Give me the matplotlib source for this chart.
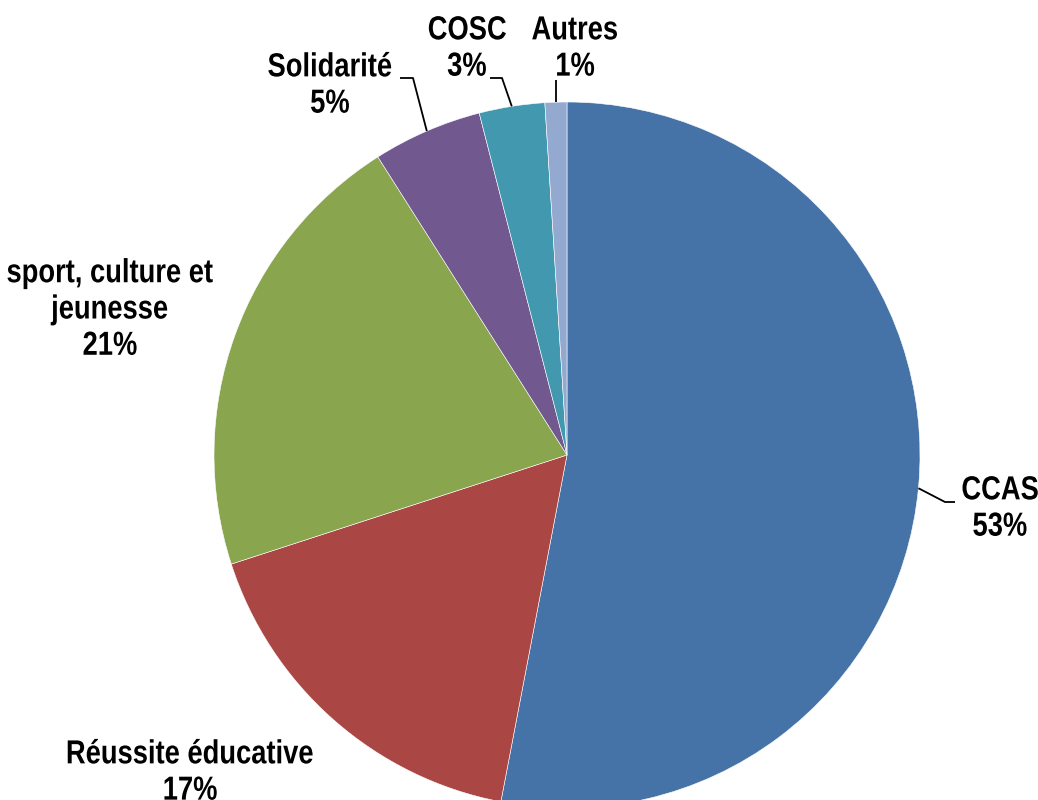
import numpy as np
import matplotlib
matplotlib.use("Agg")
import matplotlib.pyplot as plt
from matplotlib.patheffects import AbstractPathEffect
from matplotlib.transforms import Affine2D

plt.rcParams["font.family"] = ["Liberation Sans", "DejaVu Sans"]

labels = ["CCAS", "Réussite éducative", "sport, culture et\njeunesse", "Solidarité", "COSC", "Autres"]
shares = [53, 17, 21, 5, 3, 1]
colors = ["#4572A7", "#AA4643", "#89A54E", "#71588F", "#4198AF", "#93A9CF"]


class Narrow(AbstractPathEffect):
    """Squeeze each text line horizontally about its own centre (narrow face)."""

    def __init__(self, sx=0.82):
        super().__init__()
        self.sx = sx

    def draw_path(self, renderer, gc, tpath, affine, rgbFace=None):
        ext = tpath.get_extents()
        mid = (ext.x0 + ext.x1) / 2
        squeeze = Affine2D().translate(-mid, 0).scale(self.sx, 1).translate(mid, 0)
        renderer.draw_path(gc, tpath, squeeze + affine, rgbFace)


W, H = 1038, 800
fig = plt.figure(figsize=(W / 100, H / 100), dpi=100)
ax = fig.add_axes([0, 0, 1, 1])

cx, cy, r = 567, H - 455, 353
wedges, _ = ax.pie(shares, colors=colors, startangle=90, counterclock=False,
                   center=(cx, cy), radius=r, frame=True,
                   wedgeprops=dict(edgecolor="white", linewidth=0.4))
ax.set_xlim(0, W)
ax.set_ylim(0, H)
ax.set_aspect("equal")
ax.axis("off")

# label anchor (text centre in pixels from top-left) and optional leader elbow
label_pos = [(1000, 509), (190, 773), (110, 310), (330, 86), (467, 49), (575, 49)]
elbows = [[(945, 502), (955, 502)], None, None,
          [(413, 78), (400, 78)], [(502, 78), (490, 78)], [(556, 80)]]

for w, lab, pct, pos, elb in zip(wedges, labels, shares, label_pos, elbows):
    ax.text(pos[0], H - pos[1], f"{lab}\n{pct}%", ha="center", va="center",
            fontsize=24, fontweight="bold", linespacing=1.22, color="black",
            path_effects=[Narrow()])
    if elb is None:
        continue
    mid = np.deg2rad((w.theta1 + w.theta2) / 2)
    xs = [cx + r * np.cos(mid)] + [p[0] for p in elb]
    ys = [cy + r * np.sin(mid)] + [H - p[1] for p in elb]
    if len(elb) == 1:
        xs[1] = xs[0]
    ax.plot(xs, ys, color="black", linewidth=1.3, solid_capstyle="butt")

fig.savefig("out.png", dpi=100)
